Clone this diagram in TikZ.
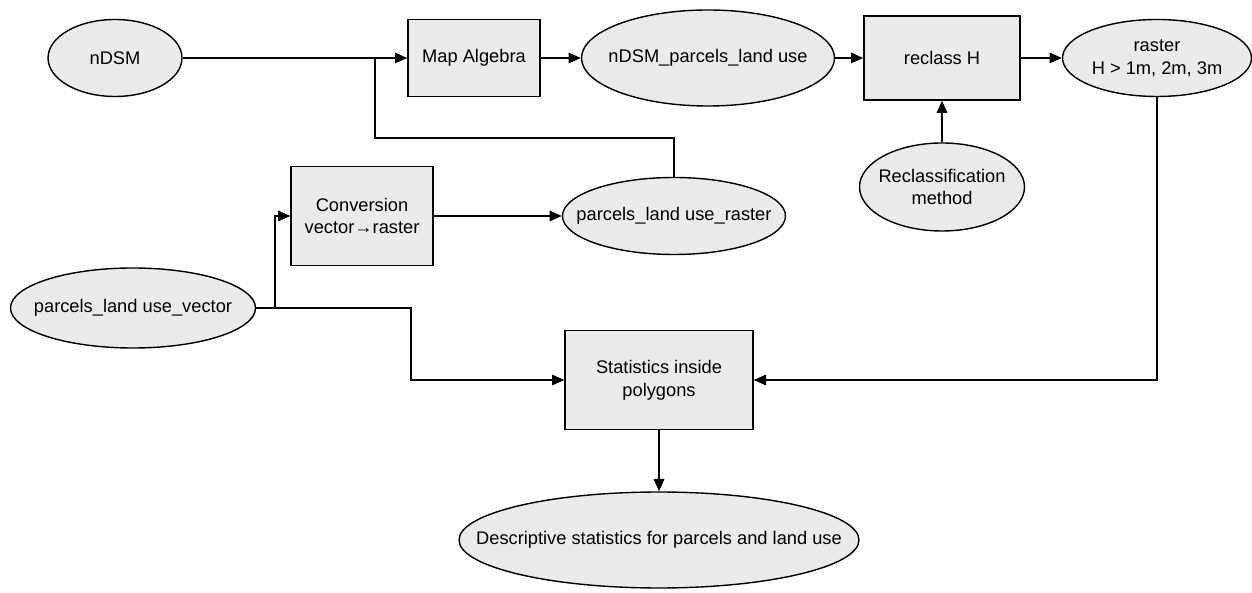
\documentclass[tikz,border=0pt]{standalone}
\usepackage{fontspec}
\setmainfont{Liberation Sans}
\usetikzlibrary{shapes.geometric, arrows.meta, positioning}
\definecolor{nodeGray}{HTML}{EBEBEB}

\begin{document}
\begin{tikzpicture}[
    box/.style={draw, fill=nodeGray, line width=0.8pt, align=center, inner sep=0pt, font=\fontsize{10.4}{13}\selectfont},
    data/.style={ellipse, draw, fill=nodeGray, line width=0.8pt, align=center, inner ysep=0pt, inner xsep=-0.9cm, font=\fontsize{10.4}{13}\selectfont},
    arrow/.style={-{Triangle[length=7pt,width=6pt]}, line width=0.8pt},
    line/.style={line width=0.8pt},
]
    \useasboundingbox (0,0) rectangle (25.04,11.84);

    % Top row
    \node[data, minimum width=2.68cm, minimum height=1.54cm] (ndsm) at (2.30, 10.68) {nDSM};
    \node[box, minimum width=2.64cm, minimum height=1.54cm] (mapalg) at (9.48, 10.68) {Map Algebra};
    \node[data, minimum width=5.06cm, minimum height=1.92cm] (ndsmpar) at (14.16, 10.68) {nDSM\_parcels\_land use};
    \node[box, minimum width=3.12cm, minimum height=1.68cm] (reclass) at (18.84, 10.68) {reclass H};
    \node[data, minimum width=3.78cm, minimum height=1.54cm] (rasterh) at (23.14, 10.68) {raster\\H > 1m, 2m, 3m};

    % Middle row
    \node[data, minimum width=3.30cm, minimum height=1.76cm] (reclmeth) at (18.84, 8.10) {Reclassification\\method};
    \node[box, minimum width=2.84cm, minimum height=1.98cm] (conv) at (7.24, 7.52) {Conversion\\vector→raster};
    \node[data, minimum width=4.46cm, minimum height=1.54cm] (parraster) at (13.48, 7.52) {parcels\_land use\_raster};
    \node[data, minimum width=4.90cm, minimum height=1.60cm] (parvector) at (2.66, 5.68) {parcels\_land use\_vector};

    % Statistics
    \node[box, minimum width=3.76cm, minimum height=1.98cm] (stats) at (13.18, 4.24) {Statistics inside\\polygons};
    \node[data, minimum width=8.00cm, minimum height=1.92cm] (descr) at (13.18, 1.04) {Descriptive statistics for parcels and land use};

    % Junctions
    \coordinate (jmap) at (7.50, 9.08);
    \coordinate (jvec) at (5.50, 5.68);
    \coordinate (jstat) at (8.22, 5.68);

    \draw[arrow] (ndsm) -- (mapalg);
    \draw[line] (parraster.north) |- (jmap) -- (jmap |- mapalg.west);
    \draw[arrow] (mapalg) -- (ndsmpar);
    \draw[arrow] (ndsmpar) -- (reclass);
    \draw[arrow] (reclass) -- (rasterh);
    \draw[arrow] (reclmeth) -- (reclass);
    \draw[arrow] (rasterh.south) |- (stats.east);
    \draw[arrow] (parvector.east) -- (jvec) |- (conv.west);
    \draw[arrow] (conv) -- (parraster);
    \draw[arrow] (jvec) -- (jstat) |- (stats.west);
    \draw[arrow] (stats) -- (descr);
\end{tikzpicture}
\end{document}
